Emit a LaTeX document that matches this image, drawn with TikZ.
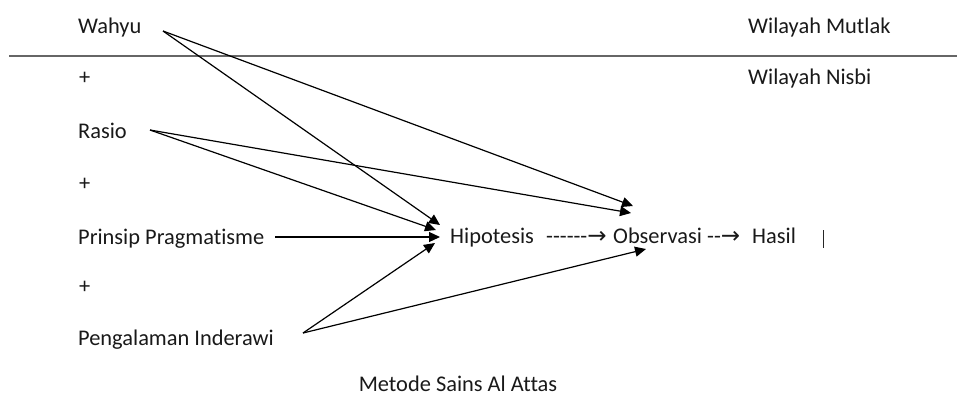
\documentclass[tikz,border=0pt]{standalone}
\usepackage{fontspec}
\setmainfont{Carlito}[Ligatures={NoCommon}]
\newfontfamily\dejavu{DejaVu Sans}
\newcommand{\bigarr}{{\dejavu\fontsize{23}{26}\selectfont →}}
\usetikzlibrary{arrows.meta}
\begin{document}
\begin{tikzpicture}[x=1pt,y=-1pt,
  lbl/.style={inner sep=0pt, anchor=base west, font=\fontsize{22.4}{26}\selectfont, text=black!90},
  conn/.style={line width=1.2pt, -{Triangle[length=11pt,width=10pt]}},
  rule/.style={line width=1.6pt, black!60}]
\useasboundingbox (0,0) rectangle (957,400);
% left column
\node[lbl] (wahyu) at (78,33) {Wahyu};
\node[lbl] (plus1) at (79,84) {+};
\node[lbl] (rasio) at (78,138) {Rasio};
\node[lbl] (plus2) at (79,190) {+};
\node[lbl] (prinsip) at (78,244) {Prinsip Pragmatisme};
\node[lbl] (plus3) at (79,293) {+};
\node[lbl] (peng) at (78,345) {Pengalaman Inderawi};
% right labels
\node[lbl] (mutlak) at (748,33) {Wilayah Mutlak};
\node[lbl] (nisbi) at (748,84) {Wilayah Nisbi};
% separator line
\coordinate (ruleL) at (9,56);
\coordinate (ruleR) at (957,56);
\draw[rule] (ruleL) -- (ruleR);
% process row
\node[lbl] (hip) at (450,243) {Hipotesis};
\node[lbl] (dash1) at (546,243) {-{}-{}-{}-{}-{}-\bigarr};
\node[lbl] (obs) at (613,243) {Observasi};
\node[lbl] (dash2) at (707,243) {-{}-\bigarr};
\node[lbl] (hasil) at (752,243) {Hasil};
\coordinate (barT) at (823,230);
\coordinate (barB) at (823,248);
\draw[line width=1pt, black!85] (barT) -- (barB);
% caption
\node[lbl, anchor=base] (title) at (458,391) {Metode Sains Al Attas};
% connector endpoints
\coordinate (wahyuOut) at (163,31);
\coordinate (rasioOut) at (150,130);
\coordinate (prinsipOut) at (275,237);
\coordinate (pengOut) at (303,333);
\coordinate (hipW) at (440,225);
\coordinate (hipR) at (436,230);
\coordinate (hipP) at (440,237);
\coordinate (hipG) at (435,243);
\coordinate (obsW) at (633,206);
\coordinate (obsR) at (631,213);
\coordinate (obsG) at (646,249);
% connectors
\draw[conn] (wahyuOut) -- (hipW);
\draw[conn] (wahyuOut) -- (obsW);
\draw[conn] (rasioOut) -- (hipR);
\draw[conn] (rasioOut) -- (obsR);
\draw[conn] (prinsipOut) -- (hipP);
\draw[conn] (pengOut) -- (hipG);
\draw[conn] (pengOut) -- (obsG);
\end{tikzpicture}
\end{document}
